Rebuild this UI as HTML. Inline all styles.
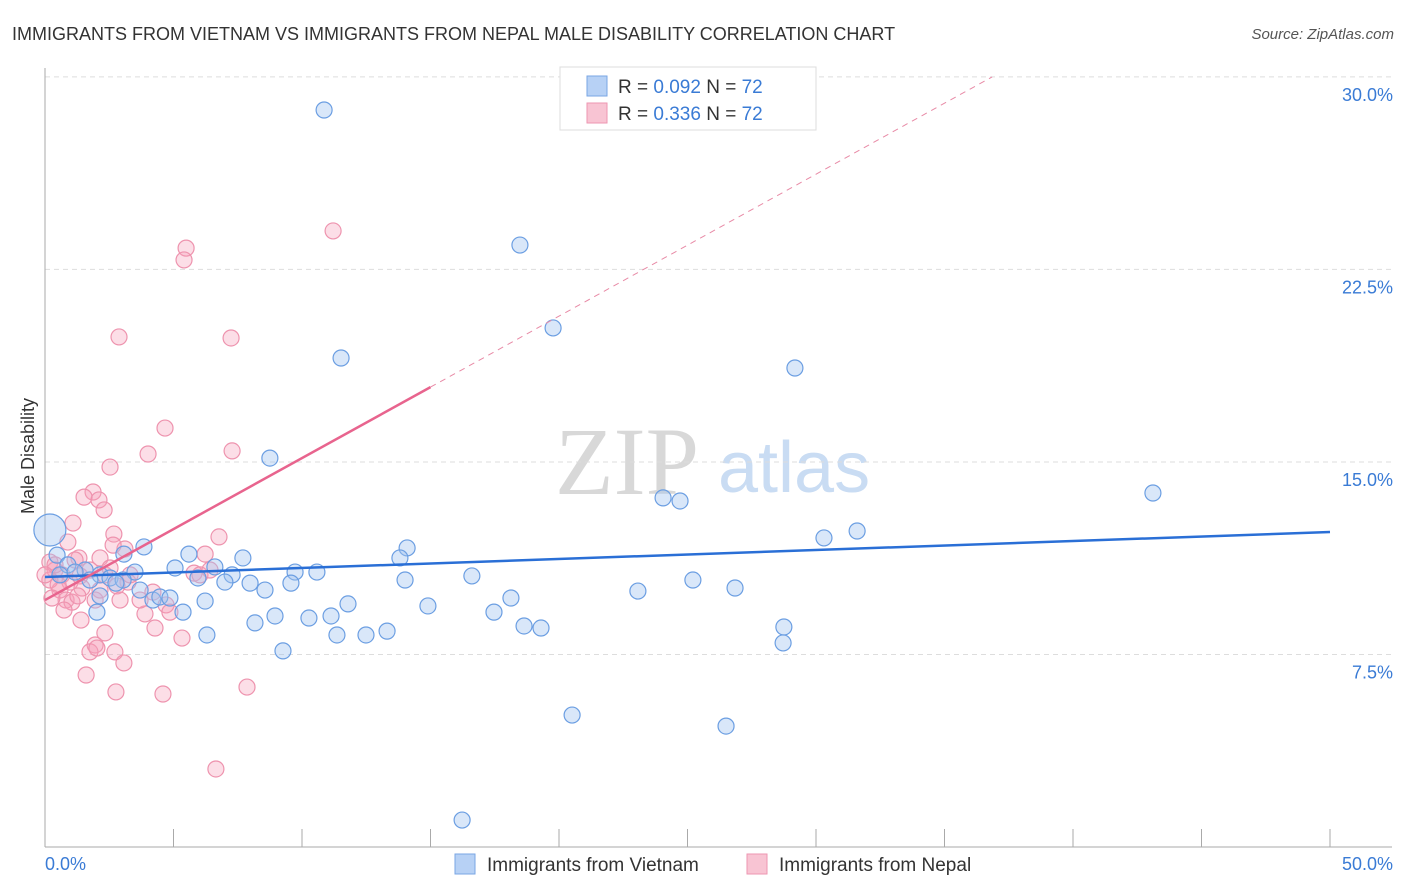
<!DOCTYPE html>
<html><head><meta charset="utf-8"><style>
body{margin:0;background:#fff;font-family:"Liberation Sans",sans-serif}
svg{display:block}
</style></head><body>
<svg id="c" width="1406" height="892" xmlns="http://www.w3.org/2000/svg">
<text x="12" y="40" font-size="18" fill="#333">IMMIGRANTS FROM VIETNAM VS IMMIGRANTS FROM NEPAL MALE DISABILITY CORRELATION CHART</text>
<text x="1394" y="39" font-size="15" fill="#555" font-style="italic" text-anchor="end">Source: ZipAtlas.com</text>
<text x="555" y="494" font-size="96" fill="#d8d8d8" font-family="Liberation Serif,serif">ZIP</text>
<text x="718" y="492" font-size="72" fill="#c9dcf3">atlas</text>
<text transform="translate(34,456) rotate(-90)" font-size="18" fill="#333" text-anchor="middle">Male Disability</text>
<g id="grid"></g><g id="pts"></g><g id="trend"></g>
<g>
<rect x="560" y="67" width="256" height="63" fill="#fff" stroke="#ddd"/>
<rect x="587" y="76" width="20" height="20" fill="#b7d1f5" stroke="#7aa6e4"/>
<rect x="587" y="103" width="20" height="20" fill="#f8c4d3" stroke="#ee96b1"/>
<text x="618" y="93" font-size="19" fill="#333">R = <tspan fill="#3a7bd5">0.092</tspan>   N = <tspan fill="#3a7bd5">72</tspan></text>
<text x="618" y="120" font-size="19" fill="#333">R = <tspan fill="#3a7bd5"> 0.336</tspan>   N = <tspan fill="#3a7bd5">72</tspan></text>
</g>
<g>
<rect x="455" y="854" width="20" height="20" fill="#b7d1f5" stroke="#7aa6e4"/>
<text x="487" y="871" font-size="19" fill="#333">Immigrants from Vietnam</text>
<rect x="747" y="854" width="20" height="20" fill="#f8c4d3" stroke="#ee96b1"/>
<text x="779" y="871" font-size="19" fill="#333">Immigrants from Nepal</text>
</g>
</svg>
<script>
const yTicks=[7.5,15,22.5,30];
const yTickLabels=["7.5%","15.0%","22.5%","30.0%"];
const xTicks=[0,5,10,15,20,25,30,35,40,45,50];
const vietX=[10.86,18.48,19.77,11.52,29.18,8.75,24.05,24.71,43.11,31.6,30.31,3.85,3.07,5.6,7.7,14.09,13.81,0.47,0.89,1.56,2.14,2.53,3.5,3.04,5.06,6.61,7.28,5.95,7.0,7.98,8.56,9.73,9.57,10.58,14.01,16.61,25.21,26.85,23.07,2.76,2.14,4.2,4.47,4.86,6.23,5.37,2.02,8.95,10.27,11.13,11.79,14.9,17.47,18.13,18.64,19.3,28.75,28.72,6.3,11.36,12.49,13.31,8.17,9.26,20.51,26.5,16.23,0.58,1.17,1.75,3.7,0.19];
const vietY=[28.71,23.45,20.22,19.05,18.66,15.15,13.6,13.48,13.79,12.31,12.04,11.69,11.41,11.41,11.26,11.65,11.26,11.37,10.99,10.79,10.6,10.48,10.71,10.4,10.87,10.91,10.6,10.48,10.32,10.28,10.01,10.71,10.28,10.71,10.4,10.56,10.4,10.09,9.97,10.28,9.78,9.62,9.74,9.7,9.58,9.15,9.15,9.0,8.92,9.0,9.47,9.39,9.15,9.7,8.61,8.53,8.57,7.95,8.26,8.26,8.26,8.41,8.73,7.64,5.14,4.71,1.05,10.6,10.71,10.4,10.01,12.35];
const nepX=[11.21,5.49,5.41,2.88,7.24,4.67,4.01,7.28,2.53,1.87,1.52,2.1,2.3,1.09,2.68,6.77,0.89,6.23,3.11,1.32,2.14,0.19,0.39,0.66,0.97,1.36,1.75,2.33,2.53,3.23,0.58,0.82,1.05,1.44,1.95,0.19,0.51,2.14,2.8,3.31,5.8,6.03,4.2,4.71,4.86,3.89,1.4,4.28,2.33,5.33,1.95,1.75,2.72,3.07,1.6,4.59,2.76,7.86,6.65,0.39,1.17,0.0,0.74,3.7,2.65,2.92,0.27,2.02,1.28,6.42];
const nepY=[24.0,23.33,22.87,19.87,19.83,16.32,15.31,15.43,14.8,13.83,13.63,13.52,13.13,12.62,12.19,12.08,11.88,11.41,11.61,11.26,11.26,11.1,10.79,10.6,10.32,10.56,10.79,10.6,10.87,10.32,10.01,9.62,9.54,10.09,9.62,10.4,10.21,10.01,10.17,10.6,10.67,10.6,9.93,9.43,9.15,9.08,8.84,8.53,8.34,8.14,7.87,7.6,7.6,7.17,6.7,5.96,6.04,6.23,3.04,10.99,11.18,10.6,9.23,9.62,11.76,9.62,9.7,7.75,9.78,10.79];
const vietTrend=[10.52,12.27];
const nepTrend=[9.62,0.553];
const X0=45,X1=1330,Y0=847,YS=25.67;
const sx=v=>X0+(X1-X0)*v/50, sy=v=>Y0-v*YS;
const NS="http://www.w3.org/2000/svg";
function mk(t,a,p){const e=document.createElementNS(NS,t);for(const k in a)e.setAttribute(k,a[k]);p.appendChild(e);return e;}
const g=document.getElementById('grid');
yTicks.forEach((t,i)=>{
 const l=mk('line',{x1:X0,x2:1392,y1:sy(t),y2:sy(t),stroke:'#ddd','stroke-dasharray':'5,4'},g);
 
 
 const tx=mk('text',{x:1393,y:sy(t)+24,'font-size':18,fill:'#3a7bd5','text-anchor':'end'},g);
 tx.textContent=yTickLabels[i];
 
 
});
const ax=mk('line',{x1:X0,x2:X0,y1:68,y2:Y0,stroke:'#aaa'},g);


const bx=mk('line',{x1:X0,x2:1392,y1:Y0,y2:Y0,stroke:'#aaa'},g);


xTicks.forEach(t=>{
 const l=mk('line',{x1:sx(t),x2:sx(t),y1:Y0,y2:Y0-18,stroke:'#aaa'},g);
 
 
});
const xl0=mk('text',{x:45,y:870,'font-size':18,fill:'#3a7bd5'},g);xl0.textContent='0.0%';


const xl1=mk('text',{x:1393,y:870,'font-size':18,fill:'#3a7bd5','text-anchor':'end'},g);xl1.textContent='50.0%';


const p=document.getElementById('pts');
nepX.forEach((x,i)=>{
 const c=mk('circle',{cx:sx(x),cy:sy(nepY[i]),r:8,fill:'rgba(245,160,185,0.35)',stroke:'#ee93ae','stroke-width':1.2},p);
 
 
});
vietX.forEach((x,i)=>{
 const c=mk('circle',{cx:sx(x),cy:sy(vietY[i]),r:i==vietX.length-1?16:8,fill:'rgba(160,195,240,0.4)',stroke:'#6b9ee2','stroke-width':1.2},p);
 
 
});
const tr=document.getElementById('trend');
const vt=mk('line',{x1:sx(0),y1:sy(vietTrend[0]),x2:sx(50),y2:sy(vietTrend[1]),stroke:'#2a6fd6','stroke-width':2.5},tr);


const xe=(30-nepTrend[0])/nepTrend[1];
const nd=mk('line',{x1:sx(15),y1:sy(nepTrend[0]+15*nepTrend[1]),x2:sx(xe),y2:sy(30),stroke:'#e88aa6','stroke-width':1,'stroke-dasharray':'6,5'},tr);


const nt=mk('line',{x1:sx(0),y1:sy(nepTrend[0]),x2:sx(15),y2:sy(nepTrend[0]+15*nepTrend[1]),stroke:'#e8648e','stroke-width':2.5},tr);


</script>
</body></html>
